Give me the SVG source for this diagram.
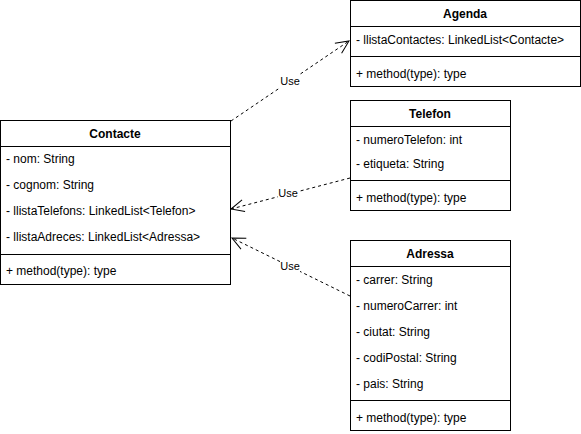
<svg xmlns="http://www.w3.org/2000/svg" width="581" height="434" viewBox="0 0 581 434">
<defs>
<style>
.box{fill:#fff;stroke:#000;stroke-width:1}
.ln{stroke:#000;stroke-width:1;fill:none}
.t{font-family:"Liberation Sans",Arial,sans-serif;font-size:12px;fill:#000}
.h{font-family:"Liberation Sans",Arial,sans-serif;font-size:12px;font-weight:bold;fill:#000;text-anchor:middle}
.edge{stroke:#000;stroke-width:1;fill:none;stroke-dasharray:3 3}
.lbl{font-family:"Liberation Sans",Arial,sans-serif;font-size:11px;fill:#000;text-anchor:middle}
.lblbg{fill:#fff}
</style>
<marker id="open" markerWidth="16" markerHeight="16" refX="14" refY="8" orient="auto" markerUnits="userSpaceOnUse">
<path d="M1,2 L14,8 L1,14" fill="none" stroke="#000" stroke-width="1"/>
</marker>
</defs>
<rect width="581" height="434" fill="#fff"/>
<g id="connectors">
<g id="e-contacte-agenda">
<path class="edge" d="M231,121 L349,41" marker-end="url(#open)"/>
<rect class="lblbg" x="280" y="74" width="20" height="14"/>
<text class="lbl" x="290" y="85">Use</text>
</g>
<g id="e-telefon-contacte">
<path class="edge" d="M350,178 L231,209" marker-end="url(#open)"/>
<rect class="lblbg" x="278" y="186" width="20" height="14"/>
<text class="lbl" x="288" y="197">Use</text>
</g>
<g id="e-adressa-contacte">
<path class="edge" d="M350,296 L232,238" marker-end="url(#open)"/>
<rect class="lblbg" x="280" y="259" width="20" height="14"/>
<text class="lbl" x="290" y="270">Use</text>
</g>
</g>
<g id="contacte">
<rect class="box" x="0.5" y="120.5" width="230" height="164"/>
<line class="ln" x1="0.5" y1="146.5" x2="230.5" y2="146.5"/>
<line class="ln" x1="0.5" y1="254.5" x2="230.5" y2="254.5"/>
<text class="h" x="115" y="138">Contacte</text>
<text class="t" x="6" y="163">- nom: String</text>
<text class="t" x="6" y="189">- cognom: String</text>
<text class="t" x="6" y="215">- llistaTelefons: LinkedList&lt;Telefon&gt;</text>
<text class="t" x="6" y="241">- llistaAdreces: LinkedList&lt;Adressa&gt;</text>
<text class="t" x="6" y="275">+ method(type): type</text>
</g>
<g id="agenda">
<rect class="box" x="350.5" y="0.5" width="230" height="86"/>
<line class="ln" x1="350.5" y1="26.5" x2="580.5" y2="26.5"/>
<line class="ln" x1="350.5" y1="56.5" x2="580.5" y2="56.5"/>
<text class="h" x="465" y="18">Agenda</text>
<text class="t" x="356" y="44">- llistaContactes: LinkedList&lt;Contacte&gt;</text>
<text class="t" x="356" y="78">+ method(type): type</text>
</g>
<g id="telefon">
<rect class="box" x="350.5" y="100.5" width="160" height="110"/>
<line class="ln" x1="350.5" y1="126.5" x2="510.5" y2="126.5"/>
<line class="ln" x1="350.5" y1="180.5" x2="510.5" y2="180.5"/>
<text class="h" x="430" y="118">Telefon</text>
<text class="t" x="356" y="144">- numeroTelefon: int</text>
<text class="t" x="356" y="168">- etiqueta: String</text>
<text class="t" x="356" y="202">+ method(type): type</text>
</g>
<g id="adressa">
<rect class="box" x="350.5" y="240.5" width="160" height="190"/>
<line class="ln" x1="350.5" y1="266.5" x2="510.5" y2="266.5"/>
<line class="ln" x1="350.5" y1="400.5" x2="510.5" y2="400.5"/>
<text class="h" x="430" y="258">Adressa</text>
<text class="t" x="356" y="284">- carrer: String</text>
<text class="t" x="356" y="310">- numeroCarrer: int</text>
<text class="t" x="356" y="336">- ciutat: String</text>
<text class="t" x="356" y="362">- codiPostal: String</text>
<text class="t" x="356" y="388">- pais: String</text>
<text class="t" x="356" y="422">+ method(type): type</text>
</g>
</svg>
